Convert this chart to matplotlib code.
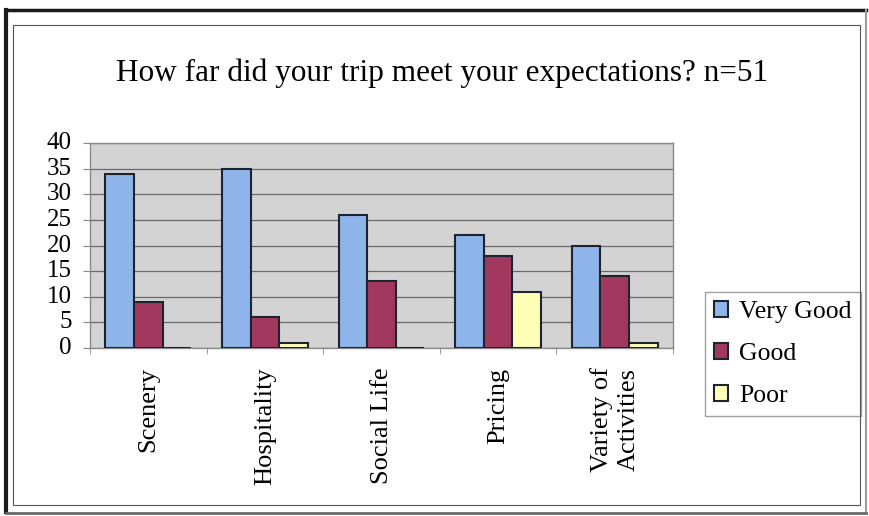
import numpy as np
import matplotlib.pyplot as plt
from matplotlib.lines import Line2D
from matplotlib.patches import Rectangle

categories = ['Scenery', 'Hospitality', 'Social Life', 'Pricing',
              'Variety of\nActivities']
very_good = [34, 35, 26, 22, 20]
good = [9, 6, 13, 18, 14]
poor = [0, 1, 0, 11, 1]
series_names = ['Very Good', 'Good', 'Poor']
y_ticks = [0, 5, 10, 15, 20, 25, 30, 35, 40]

colors = ['#8fb4ea', '#a3385e', '#ffffb8']

plt.rcParams['font.family'] = ['Liberation Serif', 'DejaVu Serif']

W, H = 869, 516
fig = plt.figure(figsize=(W / 100, H / 100), dpi=100)


def px(x, y):
    # pixel coords (top-left origin) -> figure fraction
    return x / W, 1 - y / H


# outer frame: thick dark left/top, lighter right/bottom
for (x0, y0), (x1, y1), col, lw in [
        ((6, 512), (6, 10), '#1a1a1a', 3.0),
        ((6, 10), (866, 10), '#1a1a1a', 2.5),
        ((866, 10), (866, 513), '#9a9a9a', 1.5),
        ((6, 513), (866, 513), '#6a6a6a', 2.0)]:
    fig.add_artist(Line2D([x0 / W, x1 / W], [1 - y0 / H, 1 - y1 / H],
                          transform=fig.transFigure, color=col, linewidth=lw))
fig.patches.append(Rectangle(px(13, 505), 847 / W, 480 / H,
                             transform=fig.transFigure, fill=False,
                             edgecolor='#555555', linewidth=0.8))

ax = fig.add_axes([90 / W, 1 - 348 / H, 583 / W, 205 / H])
ax.set_facecolor('#d3d3d3')

x = np.arange(len(categories))
width = 0.245
series = [very_good, good, poor]
for i, (vals, name) in enumerate(zip(series, series_names)):
    ax.bar(x + (i - 1) * width, vals, width, color=colors[i],
           edgecolor='#1c2430', linewidth=1.5, label=name, zorder=3)

ax.set_xlim(-0.5, len(categories) - 0.5)
ax.set_ylim(0, 40)
ax.set_yticks(y_ticks)
ax.yaxis.grid(True, color='#6a6a6a', linewidth=0.9)
ax.set_axisbelow(True)

ax.set_xticks(x)
ax.set_xticklabels(categories, rotation=90, fontsize=19, va='top',
                   linespacing=1.3, multialignment='center')
ax.set_xticks(np.arange(len(categories) + 1) - 0.5, minor=True)
ax.tick_params(axis='x', which='major', length=0, pad=14)
ax.tick_params(axis='x', which='minor', length=4, color='#888888')
ax.tick_params(axis='y', labelsize=18, length=5, color='#888888', pad=8)
for t in ax.get_yticklabels():
    t.set_verticalalignment('center')

for side in ['top', 'right', 'bottom', 'left']:
    ax.spines[side].set_color('#8a8a8a')
    ax.spines[side].set_linewidth(1.0)

fig.text(442 / W, 1 - 73 / H,
         'How far did your trip meet your expectations? n=51',
         ha='center', va='center', fontsize=22.5)

leg = ax.legend(loc='upper left', bbox_to_anchor=px(705, 292),
                bbox_transform=fig.transFigure, fontsize=18.5, frameon=True,
                fancybox=False, edgecolor='#8a8a8a', handlelength=0.55,
                handleheight=0.55, handletextpad=0.43, labelspacing=0.78,
                borderpad=0.35, borderaxespad=0)
leg.get_frame().set_linewidth(1.0)

fig.savefig('out.png', dpi=100)
